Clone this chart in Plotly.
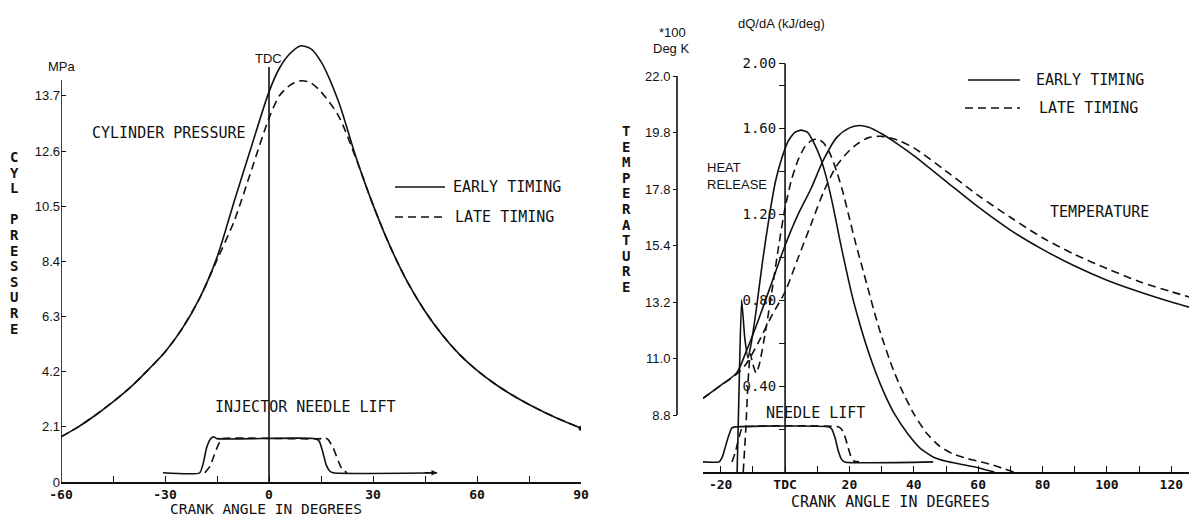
import plotly.graph_objects as go

# ---------------- data ----------------
# Left panel: cylinder pressure (MPa) vs crank angle (deg)
p_angle = [-60, -55, -50, -45, -40, -35, -30, -25, -20, -15, -10, -5, 0, 3, 6, 9, 12, 15, 20, 25,
           30, 35, 40, 45, 50, 55, 60, 65, 70, 75, 80, 85, 90]
p_early = [1.72, 2.1, 2.55, 3.05, 3.6, 4.25, 4.95, 5.85, 7.0, 8.55, 10.7, 12.8, 14.85, 15.75, 16.3, 16.6, 16.5, 16.0, 14.5, 12.4,
           10.55, 8.95, 7.6, 6.5, 5.6, 4.85, 4.25, 3.75, 3.32, 2.95, 2.62, 2.32, 2.05]
p_late = [1.72, 2.1, 2.55, 3.05, 3.6, 4.25, 4.95, 5.85, 7.0, 8.45, 9.95, 11.9, 13.85, 14.7, 15.1, 15.27, 15.2, 14.85, 13.95, 12.35,
          10.55, 8.95, 7.6, 6.5, 5.6, 4.85, 4.25, 3.75, 3.32, 2.95, 2.62, 2.32, 2.05]

# Left panel: injector needle lift (drawn in MPa units)
nl_early_x = [-30.6, -20, -19, -18, -17, -16, -15, 13.5, 14.5, 15.5, 16.5, 17.5, 18.5, 48.5]
nl_early_y = [0.35, 0.35, 0.7, 1.3, 1.62, 1.72, 1.65, 1.65, 1.55, 1.15, 0.65, 0.42, 0.35, 0.35]
nl_late_x = [-18.5, -17, -16, -15, -14, -13.5, 15.0, 16.0, 17.0, 18.5, 20, 21, 22.5]
nl_late_y = [0.35, 0.6, 0.95, 1.3, 1.58, 1.65, 1.65, 1.7, 1.62, 1.3, 0.8, 0.5, 0.35]

# Right panel: temperature (*100 K)
t_angle = [-25.5, -20, -15, -12, -8, -4, 0, 4, 8, 12, 16, 20, 23, 26, 30, 35, 40, 50, 60, 70, 80, 90, 100, 110, 120, 125.5]
t_early = [9.45, 9.95, 10.45, 11.3, 12.6, 14.0, 15.4, 16.6, 17.6, 18.75, 19.6, 19.98, 20.07, 20.0, 19.75, 19.35, 18.9, 17.9,
           16.9, 16.0, 15.25, 14.6, 14.05, 13.6, 13.2, 13.0]
t_late = [9.45, 9.95, 10.4, 10.8, 11.7, 12.7, 13.6, 14.9, 16.2, 17.5, 18.5, 19.1, 19.4, 19.6, 19.65, 19.5, 19.2, 18.3,
          17.35, 16.5, 15.7, 15.05, 14.5, 14.0, 13.6, 13.4]

# Right panel: heat release dQ/dA (kJ/deg)
hr_early_x = [-14.9, -14.2, -13.5, -12.5, -11.5, -10.5, -9, -7, -5, -3, -1, 1, 3, 5, 7, 9, 11, 13, 15, 17, 19, 21,
              23, 25, 28, 31, 34, 38, 42, 46, 50, 55, 60, 65]
hr_early_y = [0.0, 0.45, 0.80, 0.62, 0.53, 0.6, 0.75, 0.98, 1.18, 1.35, 1.46, 1.54, 1.58, 1.59, 1.58, 1.53, 1.46, 1.36,
              1.23, 1.08, 0.94, 0.81, 0.70, 0.60, 0.47, 0.36, 0.27, 0.18, 0.11, 0.07, 0.05, 0.035, 0.02, 0.0]
hr_late_x = [-13, -12.2, -11.5, -10.8, -10, -9, -8, -6, -4, -2, 0, 2, 4, 6, 8, 10, 12, 14, 16, 18, 20, 22, 24, 26, 28,
             30, 33, 36, 40, 44, 48, 52, 56, 60, 64, 68, 71]
hr_late_y = [0.0, 0.2, 0.42, 0.55, 0.5, 0.46, 0.5, 0.66, 0.85, 1.05, 1.23, 1.36, 1.45, 1.51, 1.54, 1.55, 1.53, 1.48, 1.40,
             1.30, 1.18, 1.06, 0.95, 0.84, 0.73, 0.63, 0.50, 0.39, 0.27, 0.18, 0.12, 0.085, 0.065, 0.05, 0.035, 0.015, 0.0]

# Right panel: needle lift (drawn in dQ/dA units)
nr_early_x = [-25.5, -20.5, -19.5, -18.5, -17.5, -16.5, -15.5, 13.5, 14.5, 15.5, 16.5, 17.5, 18.5, 46]
nr_early_y = [0.047, 0.047, 0.07, 0.12, 0.17, 0.205, 0.21, 0.21, 0.2, 0.16, 0.1, 0.06, 0.047, 0.047]
nr_late_x = [-16.5, -15.5, -14.5, -13.5, -12.5, 16.5, 17.5, 18.5, 19.5, 20.5, 21.5, 23]
nr_late_y = [0.047, 0.09, 0.15, 0.2, 0.21, 0.21, 0.2, 0.17, 0.12, 0.07, 0.05, 0.047]

# ticks
lx_ticks = [-60, -45, -30, -15, 0, 15, 30, 45, 60, 75, 90]
lx_text = ["-60", "", "-30", "", "0", "", "30", "", "60", "", "90"]
ly_ticks = [0, 2.1, 4.2, 6.3, 8.4, 10.5, 12.6, 14.7]
ly_text = ["0", "2.1", "4.2", "6.3", "8.4", "10.5", "12.6", "13.7"]
rx_ticks = [-20, -10, 0, 10, 20, 30, 40, 50, 60, 70, 80, 90, 100, 110, 120]
rx_text = ["-20", "", "TDC", "", "20", "", "40", "", "60", "", "80", "", "100", "", "120"]
hr_ticks = [0.2, 0.4, 0.6, 0.8, 1.0, 1.2, 1.4, 1.6, 1.8, 1.9]
hr_text = ["", "0.40", "", "0.80", "", "1.20", "", "1.60", "", "2.00"]
t_ticks = [8.8, 11.0, 13.2, 15.4, 17.6, 19.8, 22.0]
t_text = ["8.8", "11.0", "13.2", "15.4", "17.8", "19.8", "22.0"]

# ---------------- figure ----------------
W, H = 1191, 518
MONO = "DejaVu Sans Mono"
SANS = "Liberation Sans"
INK = "#111111"
LW = 1.6
DASH = "8px,5px"


def px(x):
    return x / W


def py(y):
    return 1 - y / H


fig = go.Figure()

solid = dict(color=INK, width=LW)
dashed = dict(color=INK, width=LW, dash=DASH)

# left panel
fig.add_trace(go.Scatter(x=p_angle, y=p_early, mode="lines", line=dict(shape="spline", smoothing=0.8, **solid),
                         name="EARLY TIMING", xaxis="x", yaxis="y"))
fig.add_trace(go.Scatter(x=p_angle, y=p_late, mode="lines", line=dict(shape="spline", smoothing=0.8, **dashed),
                         name="LATE TIMING", xaxis="x", yaxis="y"))
fig.add_trace(go.Scatter(x=p_angle[-1:], y=p_early[-1:], mode="markers", marker=dict(color=INK, size=5),
                         xaxis="x", yaxis="y"))
fig.add_trace(go.Scatter(x=nl_early_x, y=nl_early_y, mode="lines", line=dict(shape="spline", smoothing=0.5, **solid),
                         xaxis="x", yaxis="y"))
fig.add_trace(go.Scatter(x=nl_late_x, y=nl_late_y, mode="lines", line=dict(shape="spline", smoothing=0.5, **dashed),
                         xaxis="x", yaxis="y"))

# right panel
fig.add_trace(go.Scatter(x=t_angle, y=t_early, mode="lines", line=dict(shape="spline", smoothing=0.8, **solid),
                         xaxis="x2", yaxis="y3"))
fig.add_trace(go.Scatter(x=t_angle, y=t_late, mode="lines", line=dict(shape="spline", smoothing=0.8, **dashed),
                         xaxis="x2", yaxis="y3"))
fig.add_trace(go.Scatter(x=hr_early_x, y=hr_early_y, mode="lines", line=dict(shape="spline", smoothing=0.5, **solid),
                         xaxis="x2", yaxis="y2"))
fig.add_trace(go.Scatter(x=hr_late_x, y=hr_late_y, mode="lines", line=dict(shape="spline", smoothing=0.5, **dashed),
                         xaxis="x2", yaxis="y2"))
fig.add_trace(go.Scatter(x=nr_early_x, y=nr_early_y, mode="lines", line=dict(shape="spline", smoothing=0.5, **solid),
                         xaxis="x2", yaxis="y2"))
fig.add_trace(go.Scatter(x=nr_late_x, y=nr_late_y, mode="lines", line=dict(shape="spline", smoothing=0.5, **dashed),
                         xaxis="x2", yaxis="y2"))

axis_common = dict(showgrid=False, zeroline=False, linecolor=INK, tickcolor=INK, tickwidth=1.4,
                   fixedrange=True, automargin=False)

fig.update_layout(
    template="none",
    width=W, height=H,
    margin=dict(l=0, r=0, t=0, b=0, pad=0, autoexpand=False),
    paper_bgcolor="white", plot_bgcolor="white",
    showlegend=False,
    hovermode=False,
    xaxis=dict(domain=[px(61), px(581)], range=[-60, 90], anchor="y", showline=True, linewidth=LW,
               ticks="inside", ticklen=6, tickvals=lx_ticks, ticktext=lx_text,
               tickfont=dict(family=MONO, size=13, color=INK, weight="bold"), **axis_common),
    yaxis=dict(domain=[py(482), py(40)], range=[0, 442 / 26.27], anchor="x", showline=False,
               ticks="inside", ticklen=5, tickvals=ly_ticks, ticktext=ly_text,
               tickfont=dict(family=SANS, size=13, color=INK), **axis_common),
    xaxis2=dict(domain=[px(703), px(1189)], range=[-25.5, 125.5], anchor="y2", showline=True, linewidth=LW,
                ticks="inside", ticklen=6, tickvals=rx_ticks, ticktext=rx_text,
                tickfont=dict(family=MONO, size=13, color=INK, weight="bold"), **axis_common),
    yaxis2=dict(domain=[py(472), py(40)], range=[0, 432 / 215], anchor="free", position=px(785), showline=False,
                ticks="outside", ticklen=6, tickvals=hr_ticks, ticktext=hr_text,
                tickfont=dict(family=MONO, size=14, color=INK), **axis_common),
    yaxis3=dict(overlaying="y2", range=[8.8 - 57 / 25.68, 22.0 + 36 / 25.68], anchor="free", position=px(677),
                side="left", showline=False, ticks="outside", ticklen=4, tickvals=t_ticks, ticktext=t_text,
                tickfont=dict(family=SANS, size=13, color=INK), **axis_common),
)

shapes = []
# left y axis line and TDC line
shapes.append(dict(type="line", xref="x", yref="y", x0=-60, x1=-60, y0=0, y1=15.3, line=dict(color=INK, width=LW)))
shapes.append(dict(type="line", xref="x", yref="y", x0=0, x1=0, y0=0, y1=15.8, line=dict(color=INK, width=LW)))
# right dQ/dA axis (at TDC) and temperature axis
shapes.append(dict(type="line", xref="x2", yref="y2", x0=0, x1=0, y0=0, y1=1.9, line=dict(color=INK, width=LW)))
shapes.append(dict(type="line", xref="paper", yref="y3", x0=px(677), x1=px(677), y0=8.8, y1=22.0,
                   line=dict(color=INK, width=LW)))
# legend keys
shapes.append(dict(type="line", xref="paper", yref="paper", x0=px(395), x1=px(445), y0=py(187), y1=py(187),
                   line=dict(color=INK, width=LW)))
shapes.append(dict(type="line", xref="paper", yref="paper", x0=px(395), x1=px(445), y0=py(217), y1=py(217),
                   line=dict(color=INK, width=LW, dash=DASH)))
shapes.append(dict(type="line", xref="paper", yref="paper", x0=px(968), x1=px(1020), y0=py(80), y1=py(80),
                   line=dict(color=INK, width=LW)))
shapes.append(dict(type="line", xref="paper", yref="paper", x0=px(965), x1=px(1020), y0=py(108), y1=py(108),
                   line=dict(color=INK, width=LW, dash=DASH)))
fig.update_layout(shapes=shapes)

ann = []


def text(x, y, s, family=MONO, size=15, xanchor="center", weight="normal", align="center"):
    ann.append(dict(x=px(x), y=py(y), xref="paper", yref="paper", text=s, showarrow=False,
                    xanchor=xanchor, yanchor="middle", align=align, borderpad=0,
                    font=dict(family=family, size=size, color=INK, weight=weight)))


# left panel texts
text(62, 67, "MPa", family=SANS, size=13)
text(268, 58, "TDC", family=SANS, size=13)
text(169, 133, "CYLINDER PRESSURE")
text(305, 407, "INJECTOR NEEDLE LIFT")
text(452, 187, "EARLY TIMING", xanchor="left")
text(454, 217, "LATE TIMING", xanchor="left")
text(266, 509, "CRANK ANGLE IN DEGREES", size=14.5)
for i, ch in enumerate("CYL PRESSURE"):
    if ch != " ":
        text(14, 157 + i * 15.6, ch, family=MONO, size=14, weight="bold")

# right panel texts
text(672, 33, "*100", family=SANS, size=13)
text(671, 48, "Deg K", family=SANS, size=13)
text(781, 23, "dQ/dA (kJ/deg)", family=SANS, size=13)
text(706, 176, "HEAT<br>RELEASE", family=SANS, size=13, xanchor="left", align="left")
text(1099, 212, "TEMPERATURE")
text(815, 413, "NEEDLE LIFT")
text(1035, 80, "EARLY TIMING", xanchor="left")
text(1038, 108, "LATE TIMING", xanchor="left")
text(890, 502, "CRANK ANGLE IN DEGREES")
for i, ch in enumerate("TEMPERATURE"):
    text(626, 131 + i * 15.6, ch, family=MONO, size=14, weight="bold")

# arrow at end of left needle-lift baseline
ann.append(dict(x=nl_early_x[-1], y=nl_early_y[-1], xref="x", yref="y", ax=nl_early_x[-1] - 4, ay=nl_early_y[-1],
                axref="x", ayref="y", showarrow=True, arrowhead=2, arrowsize=0.8, arrowwidth=1.4,
                arrowcolor=INK, text=""))

fig.update_layout(annotations=ann)

fig.write_html("out.html")
